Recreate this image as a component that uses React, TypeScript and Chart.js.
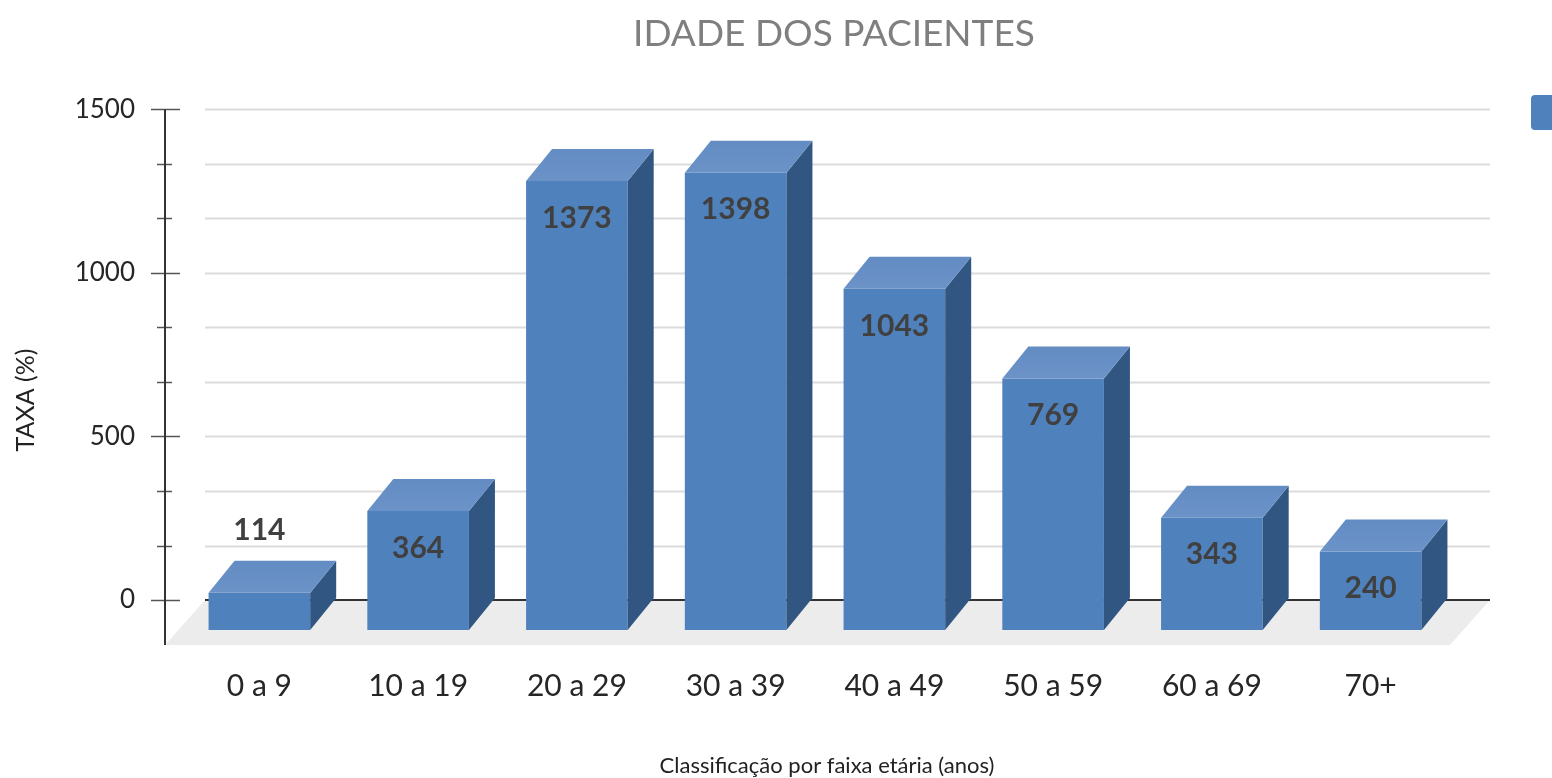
import React, { useEffect, useRef } from "react";
import { Chart, registerables } from "chart.js";

Chart.register(...registerables);

const categories = ["0 a 9", "10 a 19", "20 a 29", "30 a 39", "40 a 49", "50 a 59", "60 a 69", "70+"];
const patientCounts = [114, 364, 1373, 1398, 1043, 769, 343, 240];
const yTickValues = [0, 166.67, 333.33, 500, 666.67, 833.33, 1000, 1166.67, 1333.33, 1500];
const yMajorTicks = [0, 500, 1000, 1500];
const chartTitle = "IDADE DOS PACIENTES";
const xAxisTitle = "Classificação por faixa etária (anos)";
const yAxisTitle = "TAXA (%)";

const FRONT_BASE = -91.6;
const Y_MIN = -137.5;
const Y_MAX = 1500;
const DX = 26;
const DY = -32;
const FONT = '"Lato", sans-serif';

const poly = (ctx: CanvasRenderingContext2D, pts: number[][], fill: any) => {
  ctx.beginPath();
  pts.forEach((p, i) => (i ? ctx.lineTo(p[0], p[1]) : ctx.moveTo(p[0], p[1])));
  ctx.closePath();
  ctx.fillStyle = fill;
  ctx.fill();
};

const bar3d = {
  id: "bar3d",
  afterLayout(chart: any) {
    if (chart.titleBlock) chart.titleBlock.left += 218;
  },
  beforeDatasetsDraw(chart: any) {
    const { ctx, scales, chartArea } = chart;
    const y = scales.y;
    const axisX = 165;
    const backL = 205;
    const backR = 1490;
    const zero = y.getPixelForValue(0);
    const bottom = chartArea.bottom;
    ctx.save();
    poly(ctx, [[axisX, bottom], [1450, bottom], [backR, zero], [backL, zero]], "#ececec");
    yTickValues.forEach((v) => {
      const py = Math.round(y.getPixelForValue(v)) + 0.5;
      const major = yMajorTicks.includes(v);
      if (v !== 0) {
        ctx.strokeStyle = "#dcdcdc";
        ctx.lineWidth = 2;
        ctx.beginPath();
        ctx.moveTo(backL, py);
        ctx.lineTo(backR, py);
        ctx.stroke();
      }
      ctx.strokeStyle = "#555555";
      ctx.lineWidth = 1.5;
      ctx.beginPath();
      ctx.moveTo(major ? 151 : 157, py);
      ctx.lineTo(major ? 180 : 172, py);
      ctx.stroke();
    });
    ctx.strokeStyle = "#333333";
    ctx.lineWidth = 2;
    ctx.beginPath();
    ctx.moveTo(backL, zero);
    ctx.lineTo(backR, zero);
    ctx.stroke();
    ctx.beginPath();
    ctx.moveTo(axisX, y.getPixelForValue(Y_MAX));
    ctx.lineTo(axisX, bottom);
    ctx.stroke();
    ctx.restore();
  },
  afterDatasetsDraw(chart: any) {
    const { ctx } = chart;
    const bars = chart.getDatasetMeta(0).data;
    ctx.save();
    bars.forEach((b: any, i: number) => {
      const l = b.x - b.width / 2;
      const r = b.x + b.width / 2;
      const t = Math.min(b.y, b.base);
      const bt = Math.max(b.y, b.base);
      poly(ctx, [[r, t], [r + DX, t + DY], [r + DX, bt + DY], [r, bt]], "#325682");
      const g = ctx.createLinearGradient(0, t + DY, 0, t);
      g.addColorStop(0, "#638cc3");
      g.addColorStop(1, "#6b93c8");
      poly(ctx, [[l, t], [l + DX, t + DY], [r + DX, t + DY], [r, t]], g);
      const v = patientCounts[i];
      const labelY = v < 150 ? t - 62 : t + 37;
      ctx.font = `bold 30px ${FONT}`;
      ctx.fillStyle = "#404040";
      ctx.textAlign = "center";
      ctx.textBaseline = "middle";
      ctx.fillText(String(v), b.x, labelY);
    });
    ctx.restore();
  },
  afterDraw(chart: any) {
    const { ctx } = chart;
    ctx.save();
    ctx.fillStyle = "#4f81bd";
    ctx.beginPath();
    ctx.roundRect(1531, 95, 30, 35, 4);
    ctx.fill();
    ctx.fillStyle = "#222222";
    ctx.textAlign = "center";
    ctx.textBaseline = "middle";
    ctx.font = `22px ${FONT}`;
    ctx.fillText(xAxisTitle, 827, 766);
    ctx.translate(26, 400);
    ctx.rotate(-Math.PI / 2);
    ctx.font = `25px ${FONT}`;
    ctx.fillText(yAxisTitle, 0, 0);
    ctx.restore();
  },
};

export default function App() {
  const ref = useRef<HTMLCanvasElement>(null);
  useEffect(() => {
    document.body.style.margin = "0";
    const chart = new Chart(ref.current as HTMLCanvasElement, {
      type: "bar",
      data: {
        labels: categories,
        datasets: [
          {
            label: "Pacientes",
            data: patientCounts.map((v) => [FRONT_BASE, v + FRONT_BASE]) as any,
            backgroundColor: "#4f81bd",
            borderWidth: 0,
            categoryPercentage: 1,
            barPercentage: 0.64,
          },
        ],
      },
      options: {
        responsive: false,
        animation: false,
        layout: { padding: { top: 0, right: 102, bottom: 0, left: 0 } },
        plugins: {
          legend: { display: false },
          tooltip: { enabled: false },
          title: {
            display: true,
            text: chartTitle,
            color: "#7f7f7f",
            font: { family: FONT, size: 37, weight: "normal" },
            padding: { top: 12, bottom: 53 },
          },
        },
        scales: {
          x: {
            grid: { display: false },
            border: { display: false },
            afterFit: (s: any) => {
              s.height = 133;
            },
            ticks: { color: "#262626", font: { family: FONT, size: 30 }, padding: 15, maxRotation: 0 },
          },
          y: {
            min: Y_MIN,
            max: Y_MAX,
            grid: { display: false },
            border: { display: false },
            afterBuildTicks: (s: any) => {
              s.ticks = yTickValues.map((value) => ({ value }));
            },
            afterFit: (s: any) => {
              s.width = 180;
            },
            ticks: {
              autoSkip: false,
              color: "#262626",
              font: { family: FONT, size: 26 },
              padding: 37,
              callback: (v: any) => (yMajorTicks.includes(v) ? String(v) : ""),
            },
          },
        },
      } as any,
      plugins: [bar3d as any],
    });
    return () => chart.destroy();
  }, []);
  return <canvas ref={ref} width={1552} height={778} style={{ display: "block" }} />;
}
